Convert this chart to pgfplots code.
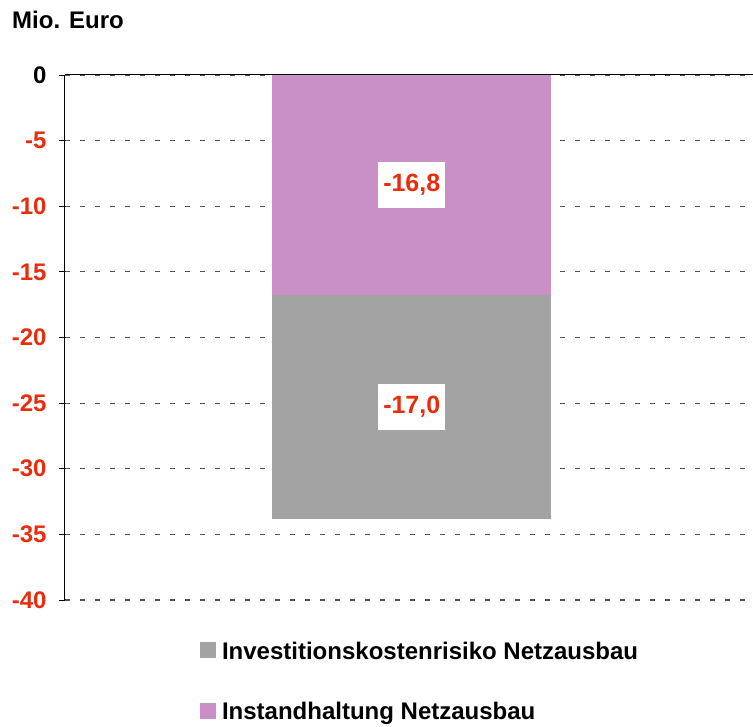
\documentclass[border=0pt]{standalone}
\usepackage{fontspec}
\setmainfont{Liberation Sans}
\usepackage{pgfplots}
\pgfplotsset{compat=1.18}
\definecolor{cpurple}{RGB}{201,143,199}
\definecolor{cgray}{RGB}{163,163,163}
\definecolor{cred}{RGB}{232,44,12}
\definecolor{cgrid}{RGB}{80,80,80}
\newcommand{\bigf}{\fontsize{24}{28}\selectfont\bfseries}
\begin{document}
\begin{tikzpicture}
\begin{axis}[
  scale only axis,
  width=688pt, height=525pt,
  xmin=0, xmax=1, ymin=-40, ymax=0,
  ybar stacked, bar width=279pt,
  axis x line=top, axis y line=left,
  axis line style={-, black, line width=1pt},
  xtick=\empty,
  ytick={0,-5,-10,-15,-20,-25,-30,-35,-40},
  yticklabels={{\color{black}0},-5,-10,-15,-20,-25,-30,-35,-40},
  yticklabel style={font=\bigf, text=cred, xshift=-9pt},
  tick align=outside, major tick length=6pt,
  tick style={black, line width=0.8pt},
  ymajorgrids,
  grid style={cgrid, line width=1.1pt, dash pattern=on 5pt off 10pt},
  clip=false,
  reverse legend,
  legend style={draw=none, fill=none, at={(0.196,-0.079)}, anchor=north west,
    font=\bigf, row sep=42pt, column sep=6pt, inner sep=0pt,
    nodes={inner sep=0pt}},
  legend cell align=left,
]
\addplot[fill=cpurple, draw=none,
  legend image code/.code={\fill[cpurple] (0pt,-7pt) rectangle (16pt,9pt);}]
  coordinates {(0.504,-16.8)};
\addlegendentry{Instandhaltung Netzausbau}
\addplot[fill=cgray, draw=none,
  legend image code/.code={\fill[cgray] (0pt,-7pt) rectangle (16pt,9pt);}]
  coordinates {(0.504,-17.0)};
\addlegendentry{Investitionskostenrisiko Netzausbau}
\coordinate (lab1) at (axis cs:0.504,-8.38);
\coordinate (lab2) at (axis cs:0.504,-25.26);
\coordinate (tl) at (rel axis cs:0,1);
\coordinate (br) at (rel axis cs:1,0);
\end{axis}
\node[fill=white, text=cred, font=\fontsize{25}{29}\selectfont\bfseries,
  minimum width=67pt, minimum height=46pt, inner sep=0pt] at (lab1) {-16,8};
\node[fill=white, text=cred, font=\fontsize{25}{29}\selectfont\bfseries,
  minimum width=67pt, minimum height=46pt, inner sep=0pt] at (lab2) {-17,0};
\node[anchor=base west, font=\bigf, inner sep=0pt]
  at ([xshift=-53pt, yshift=46pt]tl) {Mio. Euro};
\pgfresetboundingbox
\path[use as bounding box] ([xshift=-65pt,yshift=75pt]tl) rectangle ([yshift=-127pt]br);
\end{tikzpicture}
\end{document}
